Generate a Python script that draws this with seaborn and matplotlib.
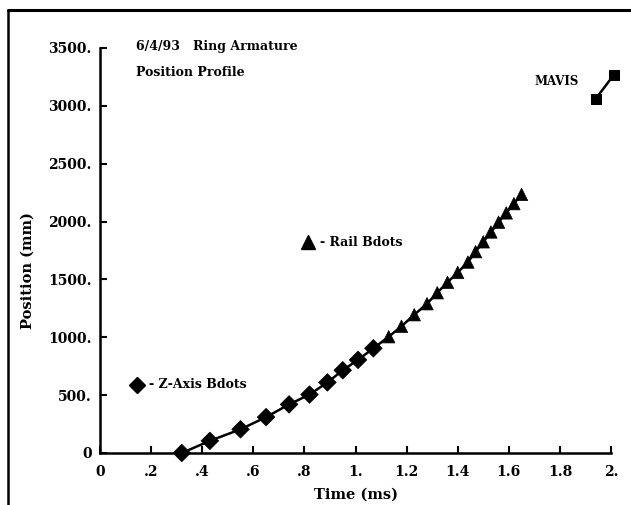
import matplotlib
matplotlib.use("Agg")
import matplotlib.pyplot as plt
from matplotlib.lines import Line2D
import seaborn as sns
import pandas as pd

# Armature position measurements (time in ms, position in mm)
z_time = [0.32, 0.43, 0.55, 0.65, 0.74, 0.82, 0.89, 0.95, 1.01, 1.07]
z_pos = [0, 105, 205, 310, 420, 505, 610, 715, 805, 905]

rail_time = [1.13, 1.18, 1.23, 1.28, 1.32, 1.36, 1.40, 1.44, 1.47, 1.50,
             1.53, 1.56, 1.59, 1.62, 1.65]
rail_pos = [1005, 1095, 1195, 1290, 1385, 1475, 1560, 1650, 1740, 1825,
            1910, 1995, 2075, 2155, 2235]

mavis_time = [1.94, 2.01]
mavis_pos = [3060, 3265]

x_ticks = [0, 0.2, 0.4, 0.6, 0.8, 1.0, 1.2, 1.4, 1.6, 1.8, 2.0]
x_tick_labels = ["0", ".2", ".4", ".6", ".8", "1.", "1.2", "1.4", "1.6", "1.8", "2."]
y_ticks = [0, 500, 1000, 1500, 2000, 2500, 3000, 3500]
y_tick_labels = ["0", "500.", "1000.", "1500.", "2000.", "2500.", "3000.", "3500."]

sns.set_theme(style="ticks")
plt.rcParams["font.family"] = ["DejaVu Serif"]
plt.rcParams["font.weight"] = "bold"
plt.rcParams["text.color"] = "black"
plt.rcParams["axes.labelcolor"] = "black"

curve = pd.DataFrame({
    "time": z_time + rail_time,
    "pos": z_pos + rail_pos,
    "probe": ["Z-Axis Bdots"] * len(z_time) + ["Rail Bdots"] * len(rail_time),
})
mavis = pd.DataFrame({"time": mavis_time, "pos": mavis_pos})

fig = plt.figure(figsize=(6.31, 5.05), dpi=100)
ax = fig.add_axes([100 / 631, 1 - 453 / 505, 511 / 631, 405 / 505])

sns.lineplot(data=curve, x="time", y="pos", sort=False, color="black",
             linewidth=1.8, ax=ax, clip_on=False)
sns.scatterplot(data=curve, x="time", y="pos", style="probe",
                markers={"Z-Axis Bdots": "D", "Rail Bdots": "^"},
                color="black", s=80, edgecolor="black", linewidth=0.5,
                legend=False, ax=ax, clip_on=False, zorder=3)
sns.lineplot(data=mavis, x="time", y="pos", color="black", linewidth=1.8,
             marker="s", markersize=7.5, markeredgecolor="black",
             ax=ax, clip_on=False)

# hand-placed key entries
ax.plot([0.145], [590], marker="D", color="black", markersize=8.5, clip_on=False)
ax.text(0.19, 590, "- Z-Axis Bdots", fontsize=9, fontweight="bold", va="center")
ax.plot([0.815], [1820], marker="^", color="black", markersize=9.5, clip_on=False)
ax.text(0.86, 1820, "- Rail Bdots", fontsize=9, fontweight="bold", va="center")
ax.text(1.70, 3210, "MAVIS", fontsize=8.5, fontweight="bold", va="center")

ax.text(0.14, 3510, "6/4/93   Ring Armature", fontsize=9, fontweight="bold", va="center")
ax.text(0.14, 3290, "Position Profile", fontsize=9, fontweight="bold", va="center")

ax.set_xlim(0, 2.0)
ax.set_ylim(0, 3500)
ax.set_xticks(x_ticks)
ax.set_xticklabels(x_tick_labels)
ax.set_yticks(y_ticks)
ax.set_yticklabels(y_tick_labels)
ax.tick_params(direction="in", length=5, width=1.5, labelsize=10, colors="black")
ax.tick_params(axis="x", pad=9)
ax.tick_params(axis="y", pad=6)
for lab in ax.get_xticklabels() + ax.get_yticklabels():
    lab.set_fontweight("bold")

sns.despine(ax=ax)
for side in ("left", "bottom"):
    ax.spines[side].set_linewidth(1.8)
    ax.spines[side].set_color("black")

ax.set_xlabel("Time (ms)", fontsize=10.5, fontweight="bold")
ax.set_ylabel("Position (mm)", fontsize=10.5, fontweight="bold")
ax.xaxis.set_label_coords(0.5, -0.085)
ax.yaxis.set_label_coords(-0.128, 0.45)

# page border along top and left edges
fig.add_artist(Line2D([8 / 631, 1.0], [1 - 10 / 505, 1 - 10 / 505],
                      color="black", linewidth=2.2, transform=fig.transFigure))
fig.add_artist(Line2D([8 / 631, 8 / 631], [0, 1 - 10 / 505],
                      color="black", linewidth=1.8, transform=fig.transFigure))

fig.savefig("out.png", dpi=100)
